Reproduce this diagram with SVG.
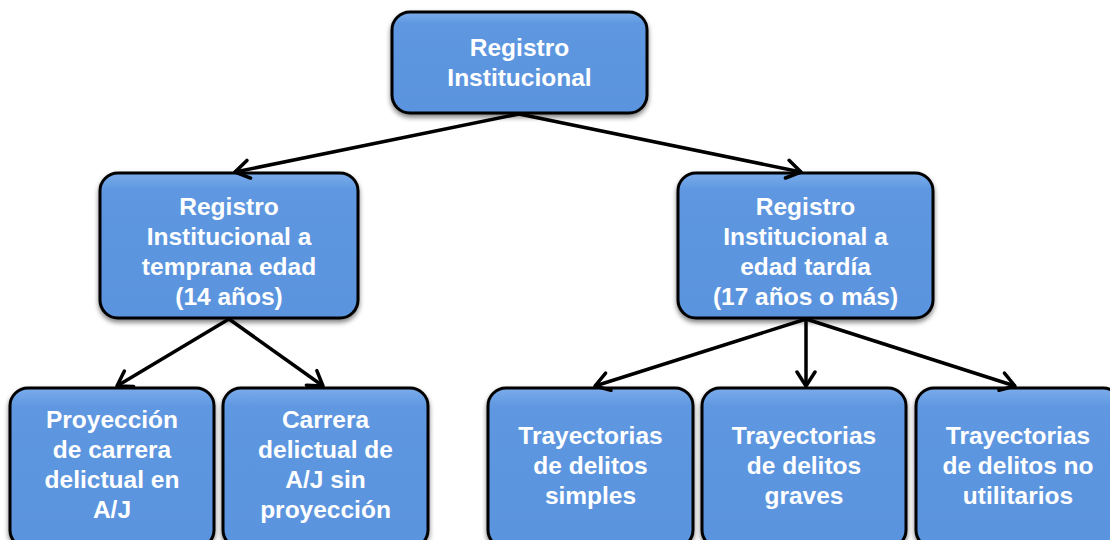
<svg xmlns="http://www.w3.org/2000/svg" width="1110" height="540" viewBox="0 0 1110 540">
<defs>
<linearGradient id="g" x1="0" y1="0" x2="0" y2="1">
<stop offset="0" stop-color="#7aaceb"/>
<stop offset="0.12" stop-color="#5e97e0"/>
<stop offset="1" stop-color="#5a94de"/>
</linearGradient>
<filter id="sh" x="-10%" y="-10%" width="120%" height="130%">
<feGaussianBlur in="SourceAlpha" stdDeviation="2.5"/>
<feOffset dx="0" dy="3" result="b"/>
<feComponentTransfer><feFuncA type="linear" slope="0.5"/></feComponentTransfer>
<feMerge><feMergeNode/><feMergeNode in="SourceGraphic"/></feMerge>
</filter>
<marker id="ah" viewBox="0 0 20 22" refX="17" refY="11" markerWidth="20" markerHeight="22" orient="auto" markerUnits="userSpaceOnUse">
<path d="M3,2 L17,11 L3,20" fill="none" stroke="#000" stroke-width="3.5" stroke-linecap="round" stroke-linejoin="round"/>
</marker>
</defs>
<style>
.box{fill:url(#g);stroke:#000;stroke-width:3;filter:url(#sh)}
.t{font-family:"Liberation Sans",Arial,sans-serif;font-weight:bold;font-size:24.5px;fill:#fff;text-anchor:middle}
.c{stroke:#000;stroke-width:3.5;fill:none;marker-end:url(#ah)}
</style>
<rect width="1110" height="540" fill="#fff"/>
<g id="n0">
<rect class="box" x="392" y="12" width="255" height="101" rx="18"/>
<text class="t" x="519.5" y="56">Registro</text>
<text class="t" x="519.5" y="86">Institucional</text>
</g>
<g id="n1">
<rect class="box" x="100" y="173" width="258" height="145" rx="18"/>
<text class="t" x="229" y="215">Registro</text>
<text class="t" x="229" y="245">Institucional a</text>
<text class="t" x="229" y="275">temprana edad</text>
<text class="t" x="229" y="305">(14 años)</text>
</g>
<g id="n2">
<rect class="box" x="678" y="173" width="255" height="145" rx="18"/>
<text class="t" x="805.5" y="215">Registro</text>
<text class="t" x="805.5" y="245">Institucional a</text>
<text class="t" x="805.5" y="275">edad tardía</text>
<text class="t" x="805.5" y="305">(17 años o más)</text>
</g>
<g id="n3">
<rect class="box" x="10" y="388" width="204" height="160" rx="18"/>
<text class="t" x="112" y="428">Proyección</text>
<text class="t" x="112" y="458">de carrera</text>
<text class="t" x="112" y="488">delictual en</text>
<text class="t" x="112" y="518">A/J</text>
</g>
<g id="n4">
<rect class="box" x="223" y="388" width="205" height="160" rx="18"/>
<text class="t" x="325.5" y="428">Carrera</text>
<text class="t" x="325.5" y="458">delictual de</text>
<text class="t" x="325.5" y="488">A/J sin</text>
<text class="t" x="325.5" y="518">proyección</text>
</g>
<g id="n5">
<rect class="box" x="488" y="388" width="205" height="160" rx="18"/>
<text class="t" x="590.5" y="444">Trayectorias</text>
<text class="t" x="590.5" y="474">de delitos</text>
<text class="t" x="590.5" y="504">simples</text>
</g>
<g id="n6">
<rect class="box" x="702" y="388" width="204" height="160" rx="18"/>
<text class="t" x="804" y="444">Trayectorias</text>
<text class="t" x="804" y="474">de delitos</text>
<text class="t" x="804" y="504">graves</text>
</g>
<g id="n7">
<rect class="box" x="916" y="388" width="205" height="160" rx="18"/>
<text class="t" x="1018" y="444">Trayectorias</text>
<text class="t" x="1018" y="474">de delitos no</text>
<text class="t" x="1018" y="504">utilitarios</text>
</g>
<g id="connectors">
<line class="c" x1="519" y1="114" x2="235" y2="172"/>
<line class="c" x1="519" y1="114" x2="801" y2="172"/>
<line class="c" x1="229" y1="319" x2="117" y2="386"/>
<line class="c" x1="229" y1="319" x2="323" y2="386"/>
<line class="c" x1="806" y1="319" x2="595" y2="386"/>
<line class="c" x1="806" y1="319" x2="806" y2="386"/>
<line class="c" x1="806" y1="319" x2="1015" y2="386"/>
</g>
</svg>
